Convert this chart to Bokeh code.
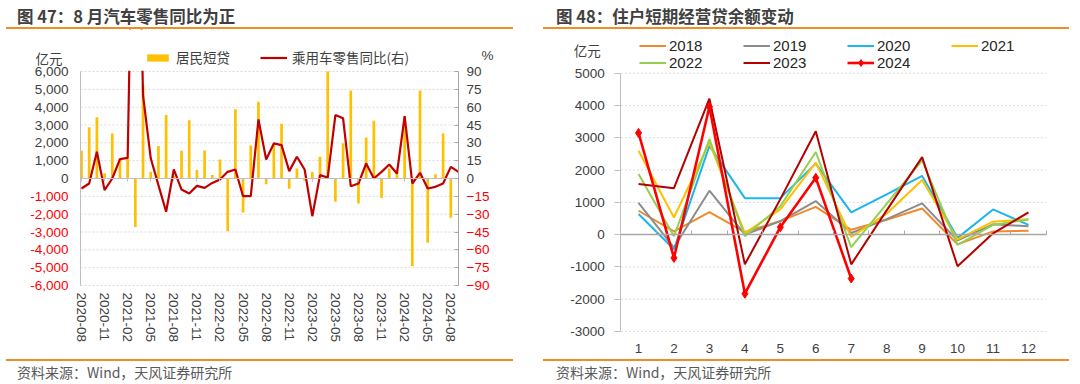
from bokeh.plotting import figure
from bokeh.models import (Range1d, LinearAxis, FixedTicker, Legend, LegendItem, Label,
                          BoxAnnotation, Div, Spacer, NumeralTickFormatter)
from bokeh.layouts import row, column
from bokeh.embed import file_html
from bokeh.resources import INLINE

# ---------------- data: left chart ----------------
months = ["2020-08", "2020-09", "2020-10", "2020-11", "2020-12",
          "2021-01", "2021-02", "2021-03", "2021-04", "2021-05", "2021-06",
          "2021-07", "2021-08", "2021-09", "2021-10", "2021-11", "2021-12",
          "2022-01", "2022-02", "2022-03", "2022-04", "2022-05", "2022-06",
          "2022-07", "2022-08", "2022-09", "2022-10", "2022-11", "2022-12",
          "2023-01", "2023-02", "2023-03", "2023-04", "2023-05", "2023-06",
          "2023-07", "2023-08", "2023-09", "2023-10", "2023-11", "2023-12",
          "2024-01", "2024-02", "2024-03", "2024-04", "2024-05", "2024-06",
          "2024-07", "2024-08", "2024-09"]
short_loans = [1550, 2880, 3430, 300, 2530, 1150, 1200, -2720, 5240, 370, 1820,
               3560, 150, 1550, 3260, 470, 1570, 190, 1070, -2960, 3880, -1910,
               1850, 4310, -320, 1900, 3070, -580, 560, -130, 370, 1220, 6000,
               -1310, 1970, 4930, -1400, 2300, 3240, -1090, 560, 350, 3500,
               -4910, 4930, -3600, 240, 2530, -2200]
car_yoy = [-8.4, -4.2, 22.5, -9.8, 0, 16.3, 17.4, 366, 70, 17,
           -5.6, -28, 7.6, -9.3, -12.6, -6.2, -7.9, -3.7, -0.8, 5.6,
           7.6, -14.9, -14.9, 49.7, 16, 29.5, 28.1, 6.2, 18.3, 7.6,
           -31.7, 2.8, 0.8, 53.4, 50.6, -6.5, -4.2, 12.6, 0, 5.6,
           11.8, 4.2, 52.5, -4.2, 4.8, -8.4, -7, -4.2, 9.8, 5.6]
left_ticks = [-6000, -5000, -4000, -3000, -2000, -1000, 0, 1000, 2000, 3000, 4000, 5000, 6000]
pct_ticks = [-90, -75, -60, -45, -30, -15, 0, 15, 30, 45, 60, 75, 90]
label_every = 3

# ---------------- data: right chart ----------------
month_nums = [1, 2, 3, 4, 5, 6, 7, 8, 9, 10, 11, 12]
y2018 = [740, 100, 700, 80, 420, 860, 150, 460, 810, -300, 100, 120]
y2019 = [980, -400, 1360, 0, 420, 1040, 50, 480, 970, -180, 320, 260]
y2020 = [640, -450, 2750, 1130, 1130, 2200, 690, 1250, 1820, -100, 780, 300]
y2021 = [2600, 530, 2850, 50, 780, 2230, -70, 650, 1690, -150, 400, 480]
y2022 = [1880, -50, 2960, -50, 880, 2560, -390, 950, 2300, -320, 300, 470]
y2023 = [1570, 1440, 4210, -920, 1100, 3200, -920, 750, 2400, -980, 40, 690]
y2024 = [3150, -720, 3960, -1830, 230, 1760, -1360]
right_ticks = [-3000, -2000, -1000, 0, 1000, 2000, 3000, 4000, 5000]

# ---------------- style / layout constants ----------------
CJK = "Noto Sans CJK SC"
NUM = "Liberation Sans"
TXT = "#404040"
NEG = "#FF0000"
ORANGE = "#F28C28"
GRID = "#D9D9D9"
AXIS = "#BFBFBF"
FS = "13.5px"
FIG_H = 330
W1, W2 = 507, 526
# plot-area edges inside each figure (px from the figure's left / bottom)
L1 = (74, 452, 74, 288)
L2 = (77.3, 502.7, 28, 286.3)


def outer(d0, d1, p0, p1, total):
    s = (d1 - d0) / (p1 - p0)
    return Range1d(d0 - p0 * s, d1 + (total - p1) * s)


def style_axis(ax, color=TXT, standoff=8, tick_out=0, tick_in=0, line=None, tick_color=None,
               line_width=1):
    ax.axis_line_color = line
    ax.axis_line_width = line_width
    ax.major_tick_line_color = tick_color
    ax.major_tick_out = tick_out
    ax.major_tick_in = tick_in
    ax.minor_tick_line_color = None
    ax.minor_tick_out = 0
    ax.minor_tick_in = 0
    ax.major_label_standoff = standoff
    ax.major_label_text_font = NUM
    ax.major_label_text_font_size = FS
    ax.major_label_text_color = color


# ================= left chart =================
x0, x1 = -0.13, len(car_yoy) - 1
p1 = figure(frame_width=W1, frame_height=FIG_H, min_border=0,
            x_range=outer(x0, x1, L1[0], L1[1], W1),
            y_range=outer(left_ticks[0], left_ticks[-1], L1[2], L1[3], FIG_H),
            output_backend="svg", toolbar_location=None)
p1.extra_y_ranges = {"pct": outer(pct_ticks[0], pct_ticks[-1], L1[2], L1[3], FIG_H)}
p1.outline_line_color = None
p1.xgrid.visible = False
p1.ygrid.visible = False

grid1 = [t for t in left_ticks if t != 0]
p1.segment(x0=[x0] * len(grid1), x1=[x1] * len(grid1), y0=grid1, y1=grid1,
           line_color=GRID, line_width=1, line_dash="2 2")
bars = p1.vbar(x=list(range(len(short_loans))), top=short_loans, bottom=0, width=0.35,
               fill_color="#FFC000", line_color=None)
yoy_line = p1.line(x=list(range(len(car_yoy))), y=car_yoy, y_range_name="pct",
                   line_color="#C00000", line_width=2.2)
# mask anything drawn above the top of the plot area
p1.add_layout(BoxAnnotation(left=x0, right=x1, bottom=left_ticks[-1] + 40, fill_color="white",
                            fill_alpha=1, line_color=None))

ytick = FixedTicker(ticks=left_ticks)
ya = p1.yaxis[0]
ya.ticker = ytick
ya.fixed_location = x0
ya.bounds = (left_ticks[0], left_ticks[-1])
ya.formatter = NumeralTickFormatter(format="0,0")
ya.major_label_overrides = {t: "" for t in left_ticks if t < 0}
style_axis(ya, standoff=12, line=AXIS)
ya_neg = LinearAxis(ticker=ytick, formatter=NumeralTickFormatter(format="0,0"),
                    fixed_location=x0, bounds=(left_ticks[0], left_ticks[-1]))
ya_neg.major_label_overrides = {t: "" for t in left_ticks if t >= 0}
style_axis(ya_neg, color=NEG, standoff=12)
p1.add_layout(ya_neg, "left")

pt = FixedTicker(ticks=pct_ticks)
ra = LinearAxis(y_range_name="pct", ticker=pt, fixed_location=x1, bounds=(pct_ticks[0], pct_ticks[-1]))
ra.major_label_overrides = {t: "" for t in pct_ticks if t < 0}
style_axis(ra, standoff=8, tick_in=4, line="#A6A6A6", tick_color="#A6A6A6")
p1.add_layout(ra, "right")
ra_neg = LinearAxis(y_range_name="pct", ticker=pt, fixed_location=x1, bounds=(pct_ticks[0], pct_ticks[-1]))
ra_neg.major_label_overrides = {t: "" for t in pct_ticks if t >= 0}
style_axis(ra_neg, color=NEG, standoff=8)
p1.add_layout(ra_neg, "right")

xt = list(range(0, len(short_loans), label_every))
xa = p1.xaxis[0]
xa.ticker = FixedTicker(ticks=xt)
xa.fixed_location = left_ticks[0]
xa.bounds = (x0, x1)
xa.major_label_overrides = {i: months[i] for i in xt}
xa.major_label_orientation = "vertical"
style_axis(xa, standoff=7)
zero1 = LinearAxis(ticker=FixedTicker(ticks=xt), fixed_location=0, bounds=(x0, x1))
zero1.major_label_overrides = {i: "" for i in xt}
style_axis(zero1, line=AXIS, tick_out=3, tick_color=AXIS)
p1.add_layout(zero1, "below")

leg1 = Legend(items=[LegendItem(label="居民短贷", renderers=[bars]),
                     LegendItem(label="乘用车零售同比(右)", renderers=[yoy_line])],
              orientation="horizontal", location=(138, 292), glyph_width=27, glyph_height=9,
              label_standoff=5, label_width=84, label_height=14, spacing=0, padding=0, margin=0,
              border_line_color=None, background_fill_alpha=0,
              label_text_font=CJK, label_text_font_size=FS, label_text_color=TXT)
p1.add_layout(leg1, "center")
p1.add_layout(Label(x=x0, y=left_ticks[-1], x_offset=-18, y_offset=14, text="亿元",
                    text_align="right", text_baseline="middle", text_color=TXT,
                    text_font=CJK, text_font_size=FS))
p1.add_layout(Label(x=x1, y=left_ticks[-1], x_offset=23, y_offset=16, text="%",
                    text_align="left", text_baseline="middle", text_color=TXT,
                    text_font=NUM, text_font_size=FS))

# ================= right chart =================
mx0, mx1 = month_nums[0] - 0.5, month_nums[-1] + 0.5
p2 = figure(frame_width=W2, frame_height=FIG_H, min_border=0,
            x_range=outer(mx0, mx1, L2[0], L2[1], W2),
            y_range=outer(right_ticks[0], right_ticks[-1], L2[2], L2[3], FIG_H),
            output_backend="svg", toolbar_location=None)
p2.outline_line_color = None
p2.xgrid.visible = False
p2.ygrid.visible = False

grid2 = [t for t in right_ticks if t != 0]
p2.segment(x0=[mx0] * len(grid2), x1=[mx1] * len(grid2), y0=grid2, y1=grid2,
           line_color=GRID, line_width=1, line_dash="2 2")

series = [("2018", y2018, "#F08A2C"), ("2019", y2019, "#8C8C8C"), ("2020", y2020, "#1CB5EE"),
          ("2021", y2021, "#FFC000"), ("2022", y2022, "#92D050"), ("2023", y2023, "#B40000")]
items = []
for name, ys, col in series:
    r = p2.line(x=month_nums[:len(ys)], y=ys, line_color=col, line_width=2)
    items.append(LegendItem(label=name, renderers=[r]))
r24 = p2.line(x=month_nums[:len(y2024)], y=y2024, line_color="#FF0000", line_width=2.6)
m24 = p2.scatter(x=month_nums[:len(y2024)], y=y2024, marker="diamond", size=9,
                 fill_color="#FF0000", line_color="#FF0000")
items.append(LegendItem(label="2024", renderers=[r24, m24]))

ya2 = p2.yaxis[0]
ya2.ticker = FixedTicker(ticks=right_ticks)
ya2.fixed_location = mx0
ya2.bounds = (right_ticks[0], right_ticks[-1])
ya2.formatter = NumeralTickFormatter(format="0")
style_axis(ya2, standoff=10, tick_out=6, line=AXIS, tick_color=AXIS)

xa2 = p2.xaxis[0]
xa2.ticker = FixedTicker(ticks=month_nums)
xa2.fixed_location = right_ticks[0]
xa2.bounds = (mx0, mx1)
style_axis(xa2, standoff=12)
edges = [m - 0.5 for m in month_nums] + [mx1]
zero2 = LinearAxis(ticker=FixedTicker(ticks=edges), fixed_location=0, bounds=(mx0, mx1))
zero2.major_label_overrides = {e: "" for e in edges}
style_axis(zero2, line="#A6A6A6", line_width=1.5, tick_in=4, tick_color="#A6A6A6")
p2.add_layout(zero2, "below")

leg2 = Legend(items=items, orientation="horizontal", ncols=4, location=(96, 288),
              glyph_width=27, glyph_height=17, label_standoff=3, label_width=74,
              label_height=17, spacing=0, padding=0, margin=0,
              border_line_color=None, background_fill_alpha=0,
              label_text_font=NUM, label_text_font_size="15px", label_text_color="#262626")
p2.add_layout(leg2, "center")
p2.add_layout(Label(x=mx0, y=right_ticks[-1], x_offset=-20, y_offset=23, text="亿元",
                    text_align="right", text_baseline="middle", text_color=TXT,
                    text_font=CJK, text_font_size=FS))

# ================= headers / footers =================
def title_div(text, width, pad):
    html = (f'<div style="box-sizing:border-box;width:{width}px;height:29px;'
            f'padding:6px 0 0 {pad}px;border-bottom:2px solid {ORANGE};'
            f'font-family:\'{CJK}\';font-weight:bold;font-size:16.5px;line-height:20px;'
            f'color:#404040;white-space:nowrap;">{text}</div>')
    return Div(text=html, width=width, height=29, margin=0)


def source_div(text, width, pad):
    html = (f'<div style="box-sizing:border-box;width:{width}px;height:24px;'
            f'padding:3px 0 0 {pad}px;border-top:2px solid {ORANGE};'
            f'font-family:\'{CJK}\';font-size:14px;line-height:16px;'
            f'color:#595959;white-space:nowrap;">{text}</div>')
    return Div(text=html, width=width, height=24, margin=0)


left = column(title_div("图 47：8 月汽车零售同比为正", W1, 11), p1,
              source_div("资料来源：Wind，天风证券研究所", W1, 11))
right = column(title_div("图 48：住户短期经营贷余额变动", W2, 13), p2,
               source_div("资料来源：Wind，天风证券研究所", W2, 13))
layout = row(Spacer(width=6, height=10, margin=0), left,
             Spacer(width=30, height=10, margin=0), right)

open("out.html", "w").write(file_html(layout, INLINE))
